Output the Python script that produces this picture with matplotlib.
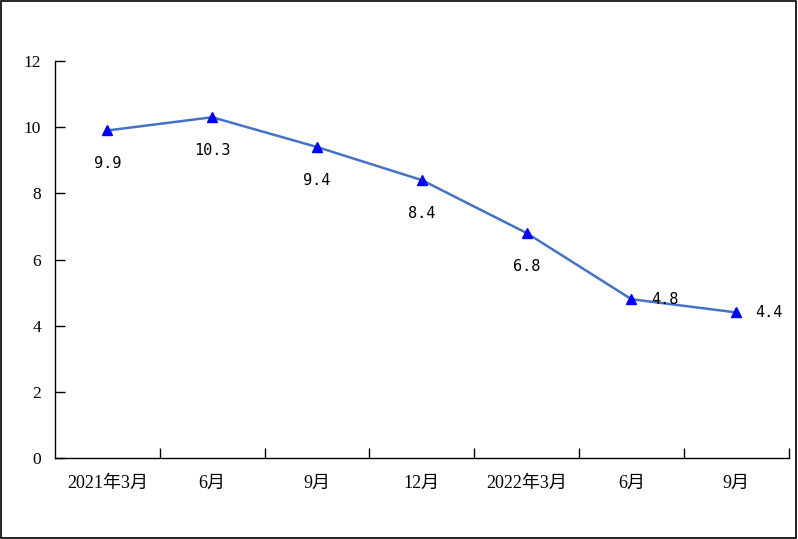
import matplotlib.pyplot as plt
from matplotlib.patches import Rectangle

plt.rcParams['font.family'] = ['Liberation Serif', 'Noto Sans CJK SC', 'DejaVu Sans']

# data
quarters = ['2021年3月', '6月', '9月', '12月', '2022年3月', '6月', '9月']
values = [9.9, 10.3, 9.4, 8.4, 6.8, 4.8, 4.4]
y_ticks = [0, 2, 4, 6, 8, 10, 12]

fig = plt.figure(figsize=(7.98, 5.39), dpi=100)
ax = fig.add_axes([55 / 798, (539 - 458) / 539, (788.6 - 55) / 798, (458 - 61) / 539])

x = list(range(len(values)))
ax.plot(x, values, color='#4472C4', linewidth=1.8, zorder=2)
ax.plot(x, values, linestyle='none', marker='^', markersize=7,
        color='#0000FF', zorder=3)

# value labels: below the point, except the last two which sit to the right
for i, v in enumerate(values):
    txt = f'{v:.1f}'
    if i >= 5:
        ax.annotate(txt, (i, v), xytext=(14, 0), textcoords='offset points',
                    ha='left', va='center', fontsize=11, family='DejaVu Sans Mono')
    else:
        ax.annotate(txt, (i, v), xytext=(0, -24), textcoords='offset points',
                    ha='center', va='center', fontsize=11, family='DejaVu Sans Mono')

ax.set_xlim(-0.5, len(values) - 0.5)
ax.set_ylim(0, 12)
ax.set_yticks(y_ticks)
ax.set_yticklabels([str(t) for t in y_ticks], fontsize=12.5)

# category labels centred, ticks between categories
ax.set_xticks(x)
ax.set_xticklabels(quarters, fontsize=13)
ax.tick_params(axis='x', which='major', length=0, pad=12)
ax.set_xticks([i + 0.5 for i in x], minor=True)
ax.tick_params(axis='x', which='minor', direction='in', length=7, width=1)
ax.tick_params(axis='y', direction='in', length=7, width=1, pad=10)

ax.spines['top'].set_visible(False)
ax.spines['right'].set_visible(False)
ax.spines['left'].set_linewidth(1)
ax.spines['bottom'].set_linewidth(1)

# outer border
fig.patches.append(Rectangle((0.001, 0.001), 0.997, 0.997, transform=fig.transFigure,
                             fill=False, edgecolor='black', linewidth=1.2))

fig.savefig('out.png', dpi=100)
